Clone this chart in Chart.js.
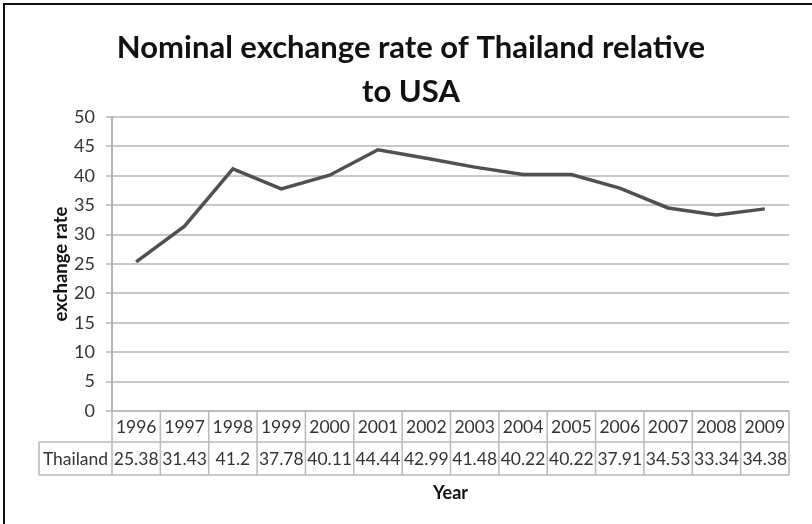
<html>
<script src="https://cdn.jsdelivr.net/npm/chart.js@4/dist/chart.umd.min.js"></script>

<style>
  body {
    margin: 0;
    background: white;
  }
  #rateChart {
    width: 812px !important;
    height: 524px !important;
  }
</style>

<body>
  <canvas id="rateChart" width="812" height="524"></canvas>
</body>

<script>

  // exchange rate, baht per US dollar
  var years = ["1996", "1997", "1998", "1999", "2000", "2001", "2002", "2003", "2004", "2005", "2006", "2007", "2008", "2009"];
  var thailandRates = [25.38, 31.43, 41.2, 37.78, 40.11, 44.44, 42.99, 41.48, 40.22, 40.22, 37.91, 34.53, 33.34, 34.38];
  var rateLabels = ["25.38", "31.43", "41.2", "37.78", "40.11", "44.44", "42.99", "41.48", "40.22", "40.22", "37.91", "34.53", "33.34", "34.38"];
  var seriesName = "Thailand";

  var bodyFont = "Lato, 'Liberation Sans', Arial, sans-serif";

  // frame around the whole figure (only top and left edges fall inside the canvas)
  var framePlugin = {
    id: "frame",
    beforeDraw: function(chart) {
      var ctx = chart.ctx;
      ctx.save();
      ctx.strokeStyle = "#111";
      ctx.lineWidth = 2;
      ctx.beginPath();
      ctx.moveTo(4, chart.height);
      ctx.lineTo(4, 4);
      ctx.lineTo(chart.width, 4);
      ctx.stroke();
      ctx.restore();
    }
  };

  // data table under the plot, one column per category of the x scale
  var tablePlugin = {
    id: "dataTable",
    afterDraw: function(chart) {
      var ctx = chart.ctx;
      var xScale = chart.scales.x;
      var area = chart.chartArea;
      var colWidth = (area.right - area.left) / years.length;
      var rowTop = area.bottom;
      var rowMid = area.bottom + 31;
      var rowBottom = area.bottom + 64;
      var labelLeft = 39;

      ctx.save();
      ctx.strokeStyle = "#b8b8b8";
      ctx.lineWidth = 1.5;
      ctx.beginPath();
      // horizontal rules
      ctx.moveTo(area.left, rowTop); ctx.lineTo(area.right, rowTop);
      ctx.moveTo(labelLeft, rowMid); ctx.lineTo(area.right, rowMid);
      ctx.moveTo(labelLeft, rowBottom); ctx.lineTo(area.right, rowBottom);
      // vertical rules
      ctx.moveTo(labelLeft, rowMid); ctx.lineTo(labelLeft, rowBottom);
      for (var i = 0; i < years.length; i++) {
        var x = xScale.getPixelForValue(i) - colWidth / 2;
        ctx.moveTo(x, rowTop); ctx.lineTo(x, rowBottom);
      }
      ctx.moveTo(area.right, rowTop); ctx.lineTo(area.right, rowBottom);
      ctx.stroke();

      ctx.fillStyle = "#333";
      ctx.font = "17.5px " + bodyFont;
      ctx.textAlign = "center";
      ctx.textBaseline = "middle";
      for (var j = 0; j < years.length; j++) {
        var cx = xScale.getPixelForValue(j);
        ctx.fillText(years[j], cx, (rowTop + rowMid) / 2 + 1);
        ctx.fillText(rateLabels[j], cx, (rowMid + rowBottom) / 2 + 1);
      }
      ctx.fillText(seriesName, (labelLeft + area.left) / 2, (rowMid + rowBottom) / 2 + 1);
      ctx.restore();
    }
  };

  var rateChart = new Chart(document.getElementById("rateChart"), {
    type: "line",
    data: {
      labels: years,
      datasets: [
        {
          label: seriesName,
          data: thailandRates,
          borderColor: "#505050",
          borderWidth: 3.5,
          pointRadius: 0,
          tension: 0,
          fill: false
        }
      ]
    },
    options: {
      responsive: false,
      animation: false,
      layout: { padding: { left: 33, right: 23, top: 0, bottom: 0 } },
      plugins: {
        legend: { display: false },
        tooltip: { enabled: false },
        title: {
          display: true,
          text: ["Nominal exchange rate of Thailand relative", "to USA"],
          color: "#111",
          font: { family: bodyFont, size: 31, weight: "bold", lineHeight: 1.42 },
          padding: { top: 26, bottom: 3 }
        }
      },
      scales: {
        x: {
          offset: true,
          grid: { display: false },
          border: { display: false },
          ticks: { display: false },
          title: {
            display: true,
            text: "Year",
            color: "#111",
            font: { family: bodyFont, size: 18, weight: "bold", lineHeight: 1.2 },
            padding: { top: 0, bottom: 20 }
          },
          afterFit: function(scale) { scale.height = 113; }
        },
        y: {
          min: 0,
          max: 50,
          ticks: {
            stepSize: 5,
            color: "#333",
            padding: 11,
            font: { family: bodyFont, size: 18 }
          },
          grid: { color: "#c8c8c8", lineWidth: 2, tickLength: 6 },
          border: { color: "#b4b4b4", width: 2 },
          title: {
            display: true,
            text: "exchange rate",
            color: "#111",
            font: { family: bodyFont, size: 18.5, weight: "bold", lineHeight: 1.2 },
            padding: { top: 17, bottom: 0 }
          },
          afterFit: function(scale) { scale.width = 79; }
        }
      }
    },
    plugins: [framePlugin, tablePlugin]
  });

</script>

</html>
